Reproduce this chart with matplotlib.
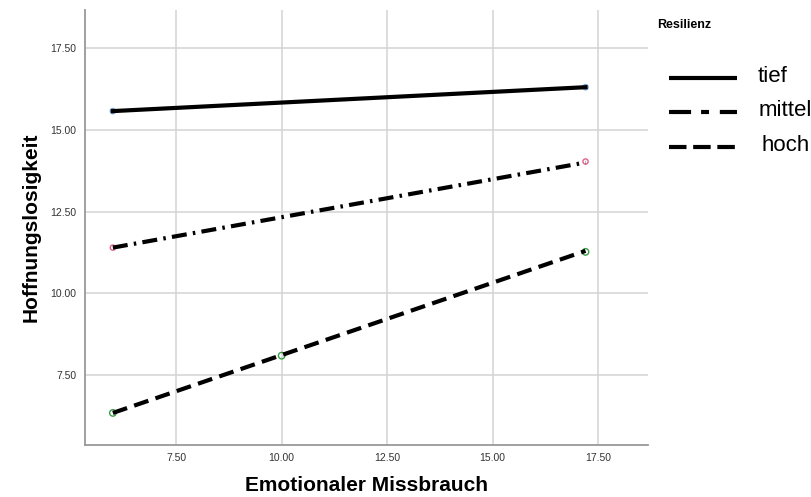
import matplotlib.pyplot as plt
from matplotlib.lines import Line2D

plt.rcParams['font.family'] = ['Liberation Sans', 'DejaVu Sans']

# fit lines (start / end of x range)
x_fit = [6.0, 17.2]
tief_fit = [15.57, 16.30]
mittel_fit = [11.40, 14.00]
hoch_fit = [6.35, 11.30]

# observed points
tief_x = [6.0, 17.2]
tief_y = [15.57, 16.30]
mittel_x = [6.0, 17.2]
mittel_y = [11.40, 14.03]
hoch_x = [6.0, 10.0, 17.2]
hoch_y = [6.35, 8.10, 11.27]

labels = ['tief', 'mittel', 'hoch']
xticks = [7.5, 10.0, 12.5, 15.0, 17.5]
yticks = [7.5, 10.0, 12.5, 15.0, 17.5]

fig = plt.figure(figsize=(8.12, 4.97), dpi=100)
ax = fig.add_axes([0.1047, 0.1046, 0.6933, 0.8754])

grid_c = '#d3d3d3'
for t in xticks:
    ax.axvline(t, color=grid_c, lw=1.1, zorder=0)
for t in yticks:
    ax.axhline(t, color=grid_c, lw=1.1, zorder=0)

ax.scatter(tief_x, tief_y, s=14, facecolors='none', edgecolors='#6fa3d8', lw=1, zorder=2)
ax.scatter(mittel_x, mittel_y, s=14, facecolors='none', edgecolors='#e0608a', lw=1, zorder=2)
ax.scatter(hoch_x, hoch_y, s=22, facecolors='none', edgecolors='#3a9e45', lw=1, zorder=2)

styles = ['-', (0, (3.6, 1.5, 0.6, 1.5)), (0, (3.6, 1.8))]
for ys, ls in zip([tief_fit, mittel_fit, hoch_fit], styles):
    ax.plot(x_fit, ys, color='black', lw=3, ls=ls, dash_capstyle='butt', zorder=3)

ax.set_xlim(5.34, 18.68)
ax.set_ylim(5.37, 18.66)
ax.set_xticks(xticks)
ax.set_yticks(yticks)
ax.set_xticklabels(['%.2f' % t for t in xticks])
ax.set_yticklabels(['%.2f' % t for t in yticks])
ax.tick_params(labelsize=7.5, labelcolor='#333333', length=0, pad=6)
for s in ['top', 'right']:
    ax.spines[s].set_visible(False)
for s in ['left', 'bottom']:
    ax.spines[s].set_color('#999999')
    ax.spines[s].set_linewidth(1.3)

ax.set_xlabel('Emotionaler Missbrauch', fontsize=15, fontweight='bold', labelpad=9)
ax.set_ylabel('Hoffnungslosigkeit', fontsize=15, fontweight='bold', labelpad=7)

# legend, drawn by hand in figure pixels
fig.text(657 / 812, 1 - 25 / 497, 'Resilienz', fontsize=9, fontweight='bold', va='center')
leg_styles = ['-', (0, (5.3, 2.4, 1.9, 2.6)), (0, (4.2, 1.6))]
leg_y = [78, 112, 147]
leg_tx = [758, 759, 762]
for lab, ls, yp, tx in zip(labels, leg_styles, leg_y, leg_tx):
    fy = 1 - yp / 497
    fig.add_artist(Line2D([669 / 812, 737 / 812], [fy, fy], color='black', lw=3,
                          ls=ls, dash_capstyle='butt', solid_capstyle='butt'))
    fig.text(tx / 812, fy + 0.004, lab, fontsize=16, va='center', ha='left')

fig.savefig('out.png', dpi=100)
